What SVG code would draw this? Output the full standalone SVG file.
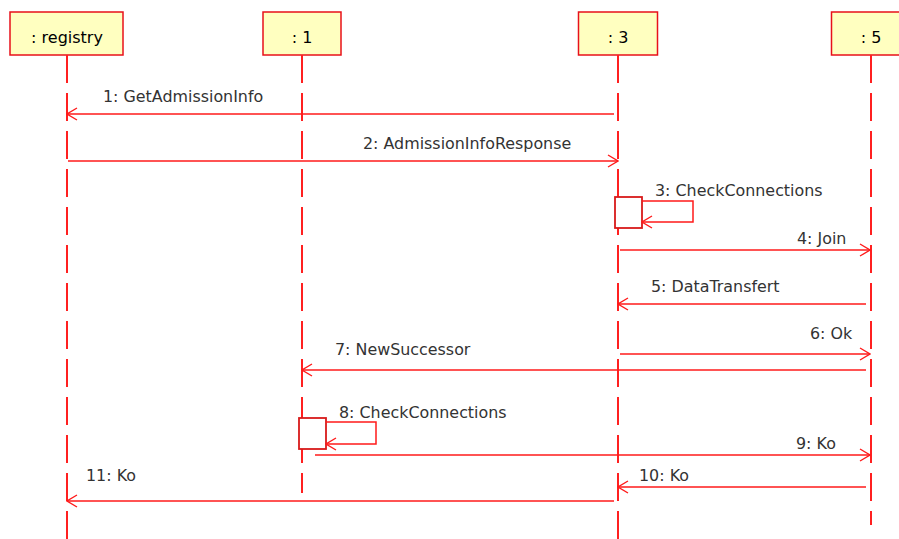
<svg xmlns="http://www.w3.org/2000/svg" width="899" height="539" viewBox="0 0 899 539">
  <defs>
    <marker id="open" viewBox="0 0 12 14" refX="11" refY="7" markerWidth="12" markerHeight="14" markerUnits="userSpaceOnUse" orient="auto">
      <path d="M1,1 L11,7 L1,13" fill="none" stroke="#ff1a1a" stroke-width="1.4"/>
    </marker>
  </defs>
  <style>
    .head { fill: #ffffc0; stroke: #e8101a; stroke-width: 1.5; }
    .htext { font-family: "DejaVu Sans", sans-serif; font-size: 16px; fill: #000; text-anchor: middle; }
    .life { stroke: #ff2020; stroke-width: 2; stroke-dasharray: 28 10; fill: none; }
    .msg { stroke: #ff1a1a; stroke-width: 1.5; fill: none; }
    .act { fill: #fff; stroke: #d81a1a; stroke-width: 1.8; }
    .label { font-family: "DejaVu Sans", sans-serif; font-size: 15.9px; fill: #333; }
  </style>
  <rect width="899" height="539" fill="#fff"/>

  <g id="registry">
    <rect class="head" x="10" y="12" width="113" height="43"/>
    <text class="htext" x="67" y="43">: registry</text>
    <line class="life" x1="67" y1="55" x2="67" y2="539"/>
  </g>
  <g id="node1">
    <rect class="head" x="263" y="12" width="78" height="43"/>
    <text class="htext" x="302" y="43">: 1</text>
    <line class="life" x1="302" y1="55" x2="302" y2="493"/>
    <rect class="act" x="299" y="418" width="27" height="31"/>
  </g>
  <g id="node3">
    <rect class="head" x="578.5" y="12" width="79" height="43"/>
    <text class="htext" x="618" y="43">: 3</text>
    <line class="life" x1="618" y1="55" x2="618" y2="539"/>
    <rect class="act" x="615" y="197" width="27" height="31"/>
  </g>
  <g id="node5">
    <rect class="head" x="831.5" y="12" width="79" height="43"/>
    <text class="htext" x="871" y="43">: 5</text>
    <line class="life" x1="871" y1="55" x2="871" y2="525"/>
  </g>

  <g id="connectors">
    <line class="msg" x1="614" y1="114" x2="67" y2="114" marker-end="url(#open)"/>
    <line class="msg" x1="68" y1="161" x2="618" y2="161" marker-end="url(#open)"/>
    <polyline class="msg" points="642,201 693,201 693,222 642,222" marker-end="url(#open)"/>
    <line class="msg" x1="620" y1="250" x2="870" y2="250" marker-end="url(#open)"/>
    <line class="msg" x1="866" y1="304" x2="618" y2="304" marker-end="url(#open)"/>
    <line class="msg" x1="620" y1="354" x2="870" y2="354" marker-end="url(#open)"/>
    <line class="msg" x1="866" y1="370" x2="302" y2="370" marker-end="url(#open)"/>
    <polyline class="msg" points="326,422 376,422 376,444 326,444" marker-end="url(#open)"/>
    <line class="msg" x1="315" y1="455" x2="870" y2="455" marker-end="url(#open)"/>
    <line class="msg" x1="866" y1="487" x2="618" y2="487" marker-end="url(#open)"/>
    <line class="msg" x1="614" y1="501" x2="67" y2="501" marker-end="url(#open)"/>
  </g>

  <g id="labels">
    <text class="label" x="103" y="102">1: GetAdmissionInfo</text>
    <text class="label" x="363" y="149">2: AdmissionInfoResponse</text>
    <text class="label" x="655" y="196">3: CheckConnections</text>
    <text class="label" x="797" y="244">4: Join</text>
    <text class="label" x="651" y="292">5: DataTransfert</text>
    <text class="label" x="810" y="339">6: Ok</text>
    <text class="label" x="335" y="355">7: NewSuccessor</text>
    <text class="label" x="339" y="418">8: CheckConnections</text>
    <text class="label" x="796" y="449">9: Ko</text>
    <text class="label" x="639" y="481">10: Ko</text>
    <text class="label" x="86" y="481">11: Ko</text>
  </g>
</svg>
